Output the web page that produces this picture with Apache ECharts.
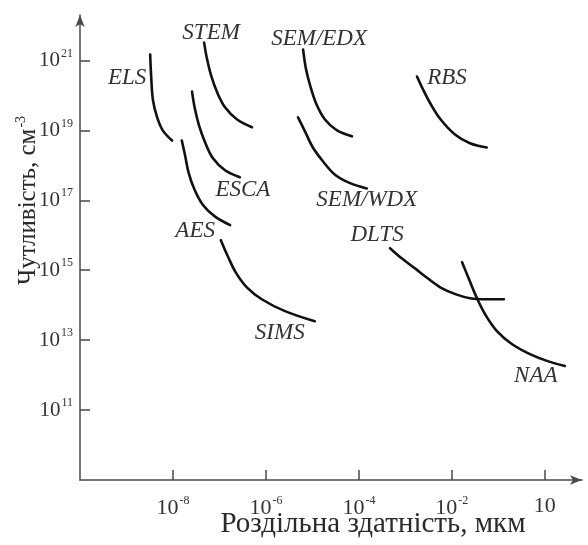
<!DOCTYPE html>
<html>
<head>
<meta charset="utf-8">
<script src="https://cdn.jsdelivr.net/npm/echarts@6/dist/echarts.min.js"></script>
<style>
  html, body { margin: 0; padding: 0; background: #fff; }
  #chart { width: 588px; height: 545px; }
</style>
</head>
<body>
<div id="chart"></div>
<script>
// Values are decimal exponents: [log10(resolution, µm), log10(sensitivity, cm^-3)]
const elsCurve    = [[-8.49,21.17],[-8.47,20.57],[-8.43,19.86],[-8.34,19.37],[-8.22,19.00],[-8.02,18.71]];
const stemCurve   = [[-7.33,21.51],[-7.27,21.06],[-7.18,20.57],[-7.05,20.09],[-6.88,19.66],[-6.62,19.31],[-6.30,19.09]];
const escaCurve   = [[-7.59,20.11],[-7.53,19.63],[-7.44,19.14],[-7.31,18.66],[-7.14,18.20],[-6.88,17.86],[-6.56,17.66]];
const aesCurve    = [[-7.81,18.71],[-7.74,18.29],[-7.66,17.77],[-7.53,17.29],[-7.35,16.86],[-7.10,16.54],[-6.77,16.29]];
const semEdxCurve = [[-5.20,21.31],[-5.14,20.77],[-5.05,20.29],[-4.92,19.77],[-4.73,19.31],[-4.47,19.00],[-4.15,18.83]];
const semWdxCurve = [[-5.31,19.37],[-5.16,18.97],[-4.99,18.51],[-4.77,18.11],[-4.52,17.74],[-4.19,17.49],[-3.83,17.34]];
const simsCurve   = [[-6.97,15.86],[-6.82,15.40],[-6.65,14.94],[-6.41,14.51],[-6.09,14.17],[-5.59,13.83],[-4.95,13.54]];
const rbsCurve    = [[-2.75,20.54],[-2.62,20.17],[-2.45,19.74],[-2.24,19.31],[-1.94,18.89],[-1.61,18.63],[-1.25,18.51]];
const dltsCurve   = [[-3.33,15.63],[-3.08,15.34],[-2.80,15.06],[-2.52,14.77],[-2.22,14.49],[-1.91,14.31],[-1.61,14.20],[-1.25,14.17],[-0.88,14.17]];
const naaCurve    = [[-1.78,15.23],[-1.63,14.74],[-1.46,14.20],[-1.27,13.71],[-1.03,13.26],[-0.71,12.89],[-0.32,12.60],[0.06,12.40],[0.43,12.26]];

const techniques = ['ELS','STEM','ESCA','AES','SEM/EDX','SEM/WDX','SIMS','RBS','DLTS','NAA'];
const curves = [elsCurve, stemCurve, escaCurve, aesCurve, semEdxCurve, semWdxCurve, simsCurve, rbsCurve, dltsCurve, naaCurve];

// Tick positions (exponents) and the text printed at them
const xTicks = [-8, -6, -4, -2, 0];
const xTickText = [['10','-8'],['10','-6'],['10','-4'],['10','-2'],['10','']];
const yTicks = [11, 13, 15, 17, 19, 21];
const yTickText = [['10','11'],['10','13'],['10','15'],['10','17'],['10','19'],['10','21']];

const xTitle = 'Роздільна здатність, мкм';
const yTitle = ['Чутливість, см', '-3'];

// Where each technique name sits relative to its curve
const labelPlacement = {
  'ELS':     { at: 'start', offset: [-23, 23] },
  'STEM':    { at: 'start', offset: [7, -10] },
  'ESCA':    { at: 'end',   offset: [3, 13] },
  'AES':     { at: 'end',   offset: [-35, 6] },
  'SEM/EDX': { at: 'start', offset: [16, -11] },
  'SEM/WDX': { at: 'end',   offset: [0, 12] },
  'SIMS':    { at: 'end',   offset: [-35, 12] },
  'RBS':     { at: 'start', offset: [30, 1] },
  'DLTS':    { at: 'start', offset: [-13, -13] },
  'NAA':     { at: 'end',   offset: [-29, 10] }
};

const FONT = '"Liberation Serif", "DejaVu Serif", serif';
const TEXT = '#333';
const AXIS = '#4a4a4a';

function tickFormatter(ticks, texts) {
  return function (v) {
    const i = ticks.findIndex(t => Math.abs(t - v) < 1e-6);
    if (i < 0) return '';
    const [base, exp] = texts[i];
    return exp ? base + '{sup|' + exp + '}' : base;
  };
}

const series = techniques.map((name, k) => {
  const pts = curves[k];
  const place = labelPlacement[name];
  const anchor = place.at === 'start' ? 0 : pts.length - 1;
  const data = pts.map((p, i) => {
    if (i !== anchor) return p;
    return {
      value: p,
      label: {
        show: true,
        position: 'inside',
        offset: place.offset,
        formatter: name,
        align: 'center',
        verticalAlign: 'middle',
        fontFamily: FONT,
        fontStyle: 'italic',
        fontSize: 23,
        color: TEXT
      }
    };
  });
  return {
    name: name,
    type: 'line',
    data: data,
    smooth: 0.35,
    symbol: 'circle',
    symbolSize: 0,
    showSymbol: true,
    silent: true,
    lineStyle: { color: '#111', width: 2.6, cap: 'round' },
    itemStyle: { color: '#111' },
    z: 3
  };
});

const supStyle = { fontFamily: FONT, fontSize: 12, color: TEXT, verticalAlign: 'top', padding: [0, 0, 14, 1] };

const chart = echarts.init(document.getElementById('chart'), null, { renderer: 'canvas' });
chart.setOption({
  animation: false,
  backgroundColor: '#fff',
  grid: { left: 80, right: 6, top: 15, bottom: 65, containLabel: false, outerBoundsMode: 'none' },
  xAxis: {
    type: 'value',
    min: -10,
    max: 0.8,
    splitLine: { show: false },
    axisLine: {
      show: true, onZero: false,
      symbol: ['none', 'arrow'], symbolSize: [7, 12],
      lineStyle: { color: AXIS, width: 1.5 }
    },
    axisTick: {
      show: true, inside: true, length: 10,
      customValues: xTicks,
      lineStyle: { color: AXIS, width: 1.5 }
    },
    axisLabel: {
      show: true,
      customValues: xTicks,
      margin: 15,
      formatter: tickFormatter(xTicks, xTickText),
      fontFamily: FONT, fontSize: 22, color: TEXT,
      rich: { sup: supStyle }
    },
    name: xTitle,
    nameLocation: 'middle',
    nameGap: 30,
    nameMoveOverlap: false,
    nameTextStyle: { fontFamily: FONT, fontSize: 29, color: '#2a2a2a', padding: [0, 0, 0, 84] }
  },
  yAxis: {
    type: 'value',
    min: 9,
    max: 22.3,
    splitLine: { show: false },
    axisLine: {
      show: true, onZero: false,
      symbol: ['none', 'arrow'], symbolSize: [7, 12],
      lineStyle: { color: AXIS, width: 1.5 }
    },
    axisTick: {
      show: true, inside: true, length: 10,
      customValues: yTicks,
      lineStyle: { color: AXIS, width: 1.5 }
    },
    axisLabel: {
      show: true,
      customValues: yTicks,
      margin: 7,
      formatter: tickFormatter(yTicks, yTickText),
      fontFamily: FONT, fontSize: 21, color: TEXT,
      rich: { sup: supStyle }
    },
    name: yTitle[0] + '{sup|' + yTitle[1] + '}',
    nameLocation: 'middle',
    nameGap: 38,
    nameRotate: 90,
    nameMoveOverlap: false,
    nameTextStyle: {
      fontFamily: FONT, fontSize: 25, color: '#2a2a2a',
      padding: [0, 0, 0, 94],
      rich: { sup: { fontFamily: FONT, fontSize: 14, color: '#2a2a2a', padding: [0, 0, 14, 1] } }
    }
  },
  series: series
});
</script>
</body>
</html>
